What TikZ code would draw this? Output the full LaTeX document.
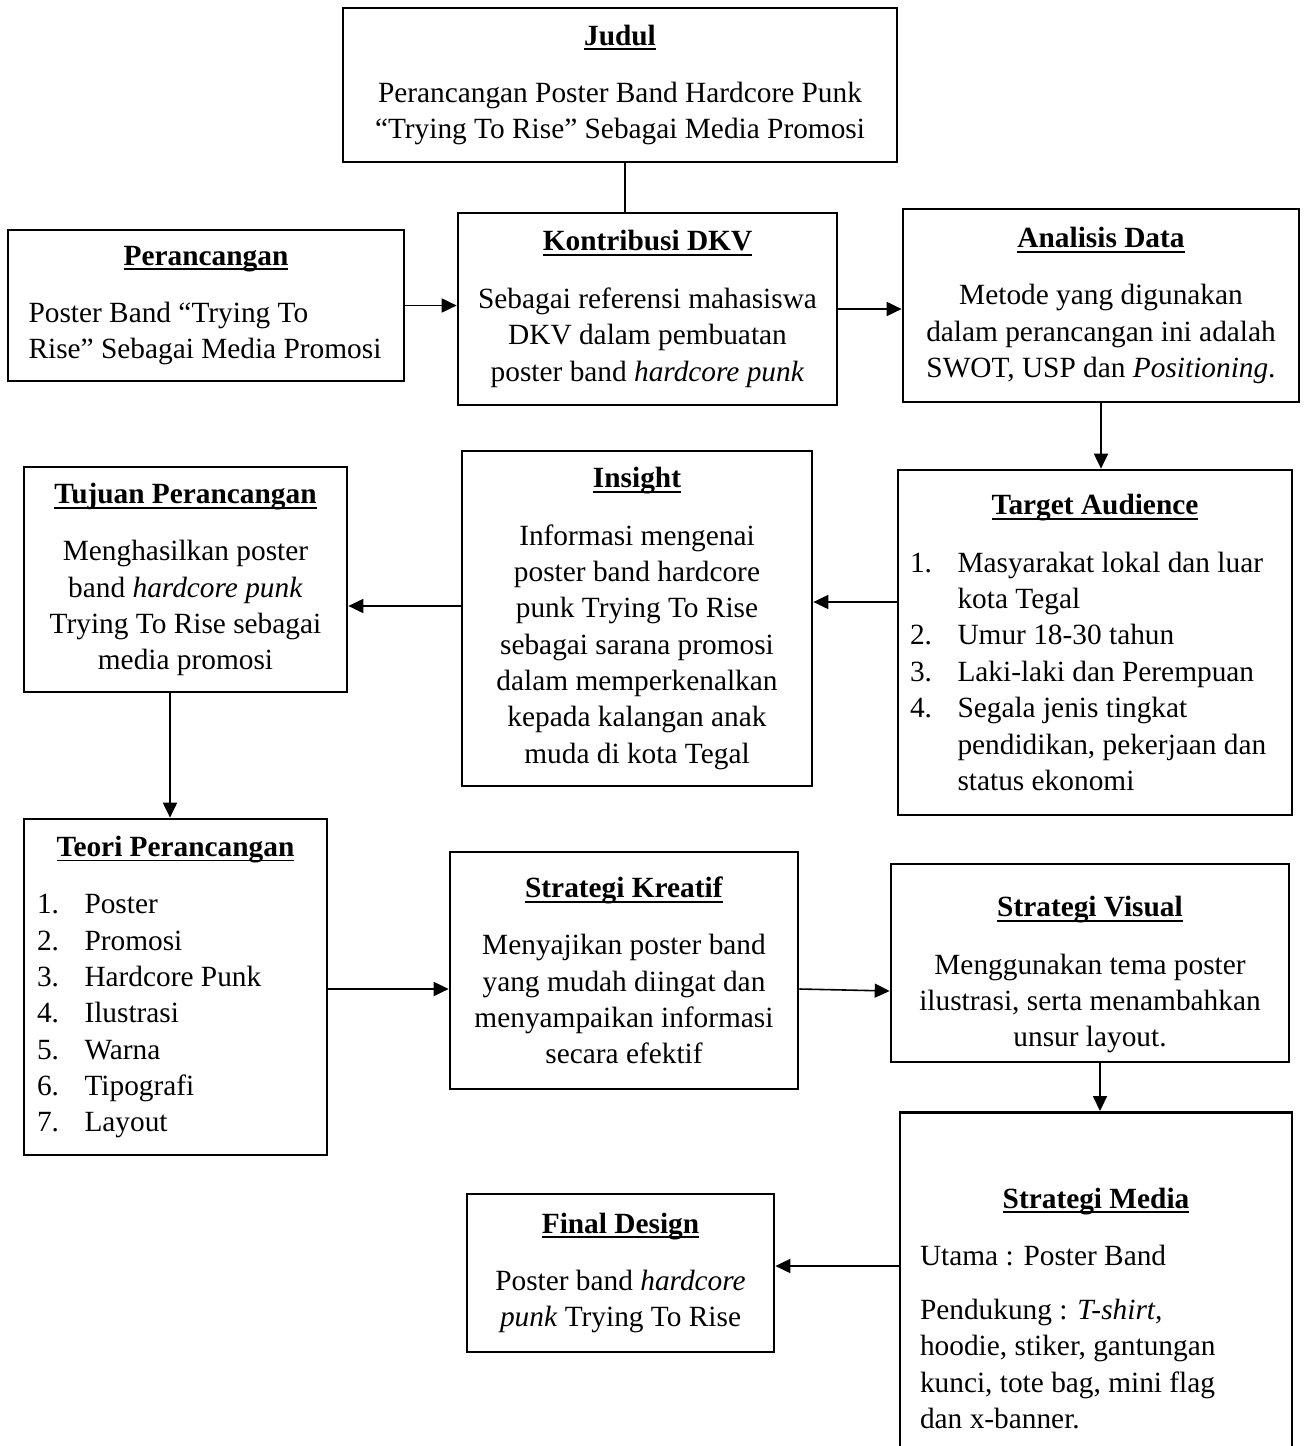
\documentclass[tikz,border=0pt]{standalone}
\usepackage{fontspec}
\setmainfont{Liberation Serif}
\usetikzlibrary{arrows.meta}

\newcommand{\uln}[1]{\setbox0\hbox{#1}\rlap{\vrule width\wd0 height -1.9pt depth 3.0pt}\box0}
\newcommand{\ttl}[1]{\hfill\uln{\textbf{#1}}\hfill\null}
\newcommand{\itm}[1]{\makebox[0.95cm][l]{#1}}

\begin{document}
\begin{tikzpicture}[x=0.02cm,y=-0.02cm,
    box/.style={draw,line width=1.6pt,inner sep=0pt,font=\fontsize{16.7}{20.7}\selectfont},
    arr/.style={-{Triangle[length=8.5pt,width=8pt]},line width=0.9pt}]
  \useasboundingbox (0,0) rectangle (1304,1446);

  % baris atas
  \node[box,align=center,minimum width=11.08cm,minimum height=3.08cm] (judul) at (620,85)
    {\uln{\textbf{Judul}}\\[12pt]Perancangan Poster Band Hardcore Punk\\“Trying To Rise” Sebagai Media Promosi};
  \node[box,align=flush left,text width=7.1cm,minimum width=7.92cm,minimum height=3.02cm] (perancangan) at (206,305.5)
    {\ttl{Perancangan}\\[12pt]\mbox{Poster Band “Trying To}\\\mbox{Rise” Sebagai Media Promosi}};
  \node[box,align=center,minimum width=7.58cm,minimum height=3.84cm] (kontribusi) at (647.5,309)
    {\uln{\textbf{Kontribusi DKV}}\\[12pt]Sebagai referensi mahasiswa\\DKV dalam pembuatan\\poster band \textit{hardcore punk}};
  \node[box,align=center,minimum width=7.92cm,minimum height=3.86cm] (analisis) at (1101,305.5)
    {\uln{\textbf{Analisis Data}}\\[12pt]Metode yang digunakan\\dalam perancangan ini adalah\\SWOT, USP dan \textit{Positioning}.};

  % baris kedua
  \node[box,align=center,minimum width=6.46cm,minimum height=4.5cm] (tujuan) at (185.5,579.5)
    {\uln{\textbf{Tujuan Perancangan}}\\[12pt]Menghasilkan poster\\band \textit{hardcore punk}\\Trying To Rise sebagai\\media promosi};
  \node[box,align=center,minimum width=7.0cm,minimum height=6.7cm] (insight) at (637,618.5)
    {\uln{\textbf{Insight}}\\[12pt]Informasi mengenai\\poster band hardcore\\punk Trying To Rise\\sebagai sarana promosi\\dalam memperkenalkan\\kepada kalangan anak\\muda di kota Tegal};
  \node[box,align=flush left,text width=7.4cm,minimum width=7.88cm,minimum height=6.9cm] (target) at (1095,642.5)
    {\ttl{Target Audience}\\[12pt]\itm{1.}Masyarakat lokal dan luar\\\itm{}kota Tegal\\\itm{2.}Umur 18-30 tahun\\\itm{3.}Laki-laki dan Perempuan\\\itm{4.}Segala jenis tingkat\\\itm{}pendidikan, pekerjaan dan\\\itm{}status ekonomi\\[-6pt]};

  % baris ketiga
  \node[box,align=flush left,text width=5.54cm,minimum width=6.06cm,minimum height=6.72cm] (teori) at (175.5,987)
    {\ttl{Teori Perancangan}\\[12pt]\itm{1.}Poster\\\itm{2.}Promosi\\\itm{3.}Hardcore Punk\\\itm{4.}Ilustrasi\\\itm{5.}Warna\\\itm{6.}Tipografi\\\itm{7.}Layout};
  \node[box,align=center,minimum width=6.96cm,minimum height=4.74cm] (kreatif) at (624,970.5)
    {\uln{\textbf{Strategi Kreatif}}\\[12pt]Menyajikan poster band\\yang mudah diingat dan\\menyampaikan informasi\\secara efektif};
  \node[box,align=center,minimum width=7.96cm,minimum height=3.96cm] (visual) at (1090,963)
    {\rule{0pt}{25pt}\uln{\textbf{Strategi Visual}}\\[12pt]Menggunakan tema poster\\ilustrasi, serta menambahkan\\unsur layout.};

  % baris bawah
  \node[box,anchor=north,align=flush left,text width=7.04cm,minimum width=7.84cm,minimum height=7.84cm] (media) at (1096,1111)
    {\ttl{Strategi Media}\\[12pt]Utama : Poster Band\\[10pt]Pendukung : \textit{T-shirt,}\\hoodie, stiker, gantungan\\kunci, tote bag, mini flag\\dan x-banner.};
  \node[box,align=center,minimum width=6.14cm,minimum height=3.16cm] (final) at (620.5,1273)
    {\uln{\textbf{Final Design}}\\[12pt]Poster band \textit{hardcore}\\\textit{punk} Trying To Rise};

  % penghubung
  \draw[line width=1.6pt] (judul.south -| 625,0) -- (kontribusi.north -| 625,0);
  \draw[arr] (perancangan.east) -- (perancangan.east -| kontribusi.west);
  \draw[arr] (kontribusi.east) -- (kontribusi.east -| analisis.west);
  \draw[arr] (analisis.south) -- (analisis.south |- target.north);
  \draw[arr] (target.west |- 0,602) -- (insight.east |- 0,602);
  \draw[arr] (insight.west |- 0,606) -- (tujuan.east |- 0,606);
  \draw[arr] (tujuan.south -| 170,0) -- (teori.north -| 170,0);
  \draw[arr] (teori.east |- 0,989) -- (kreatif.west |- 0,989);
  \draw[arr] (kreatif.east |- 0,989) -- (visual.west |- 0,991);
  \draw[arr] (visual.south -| 1100,0) -- (media.north -| 1100,0);
  \draw[arr] (media.west |- 0,1266) -- (final.east |- 0,1266);
\end{tikzpicture}
\end{document}
